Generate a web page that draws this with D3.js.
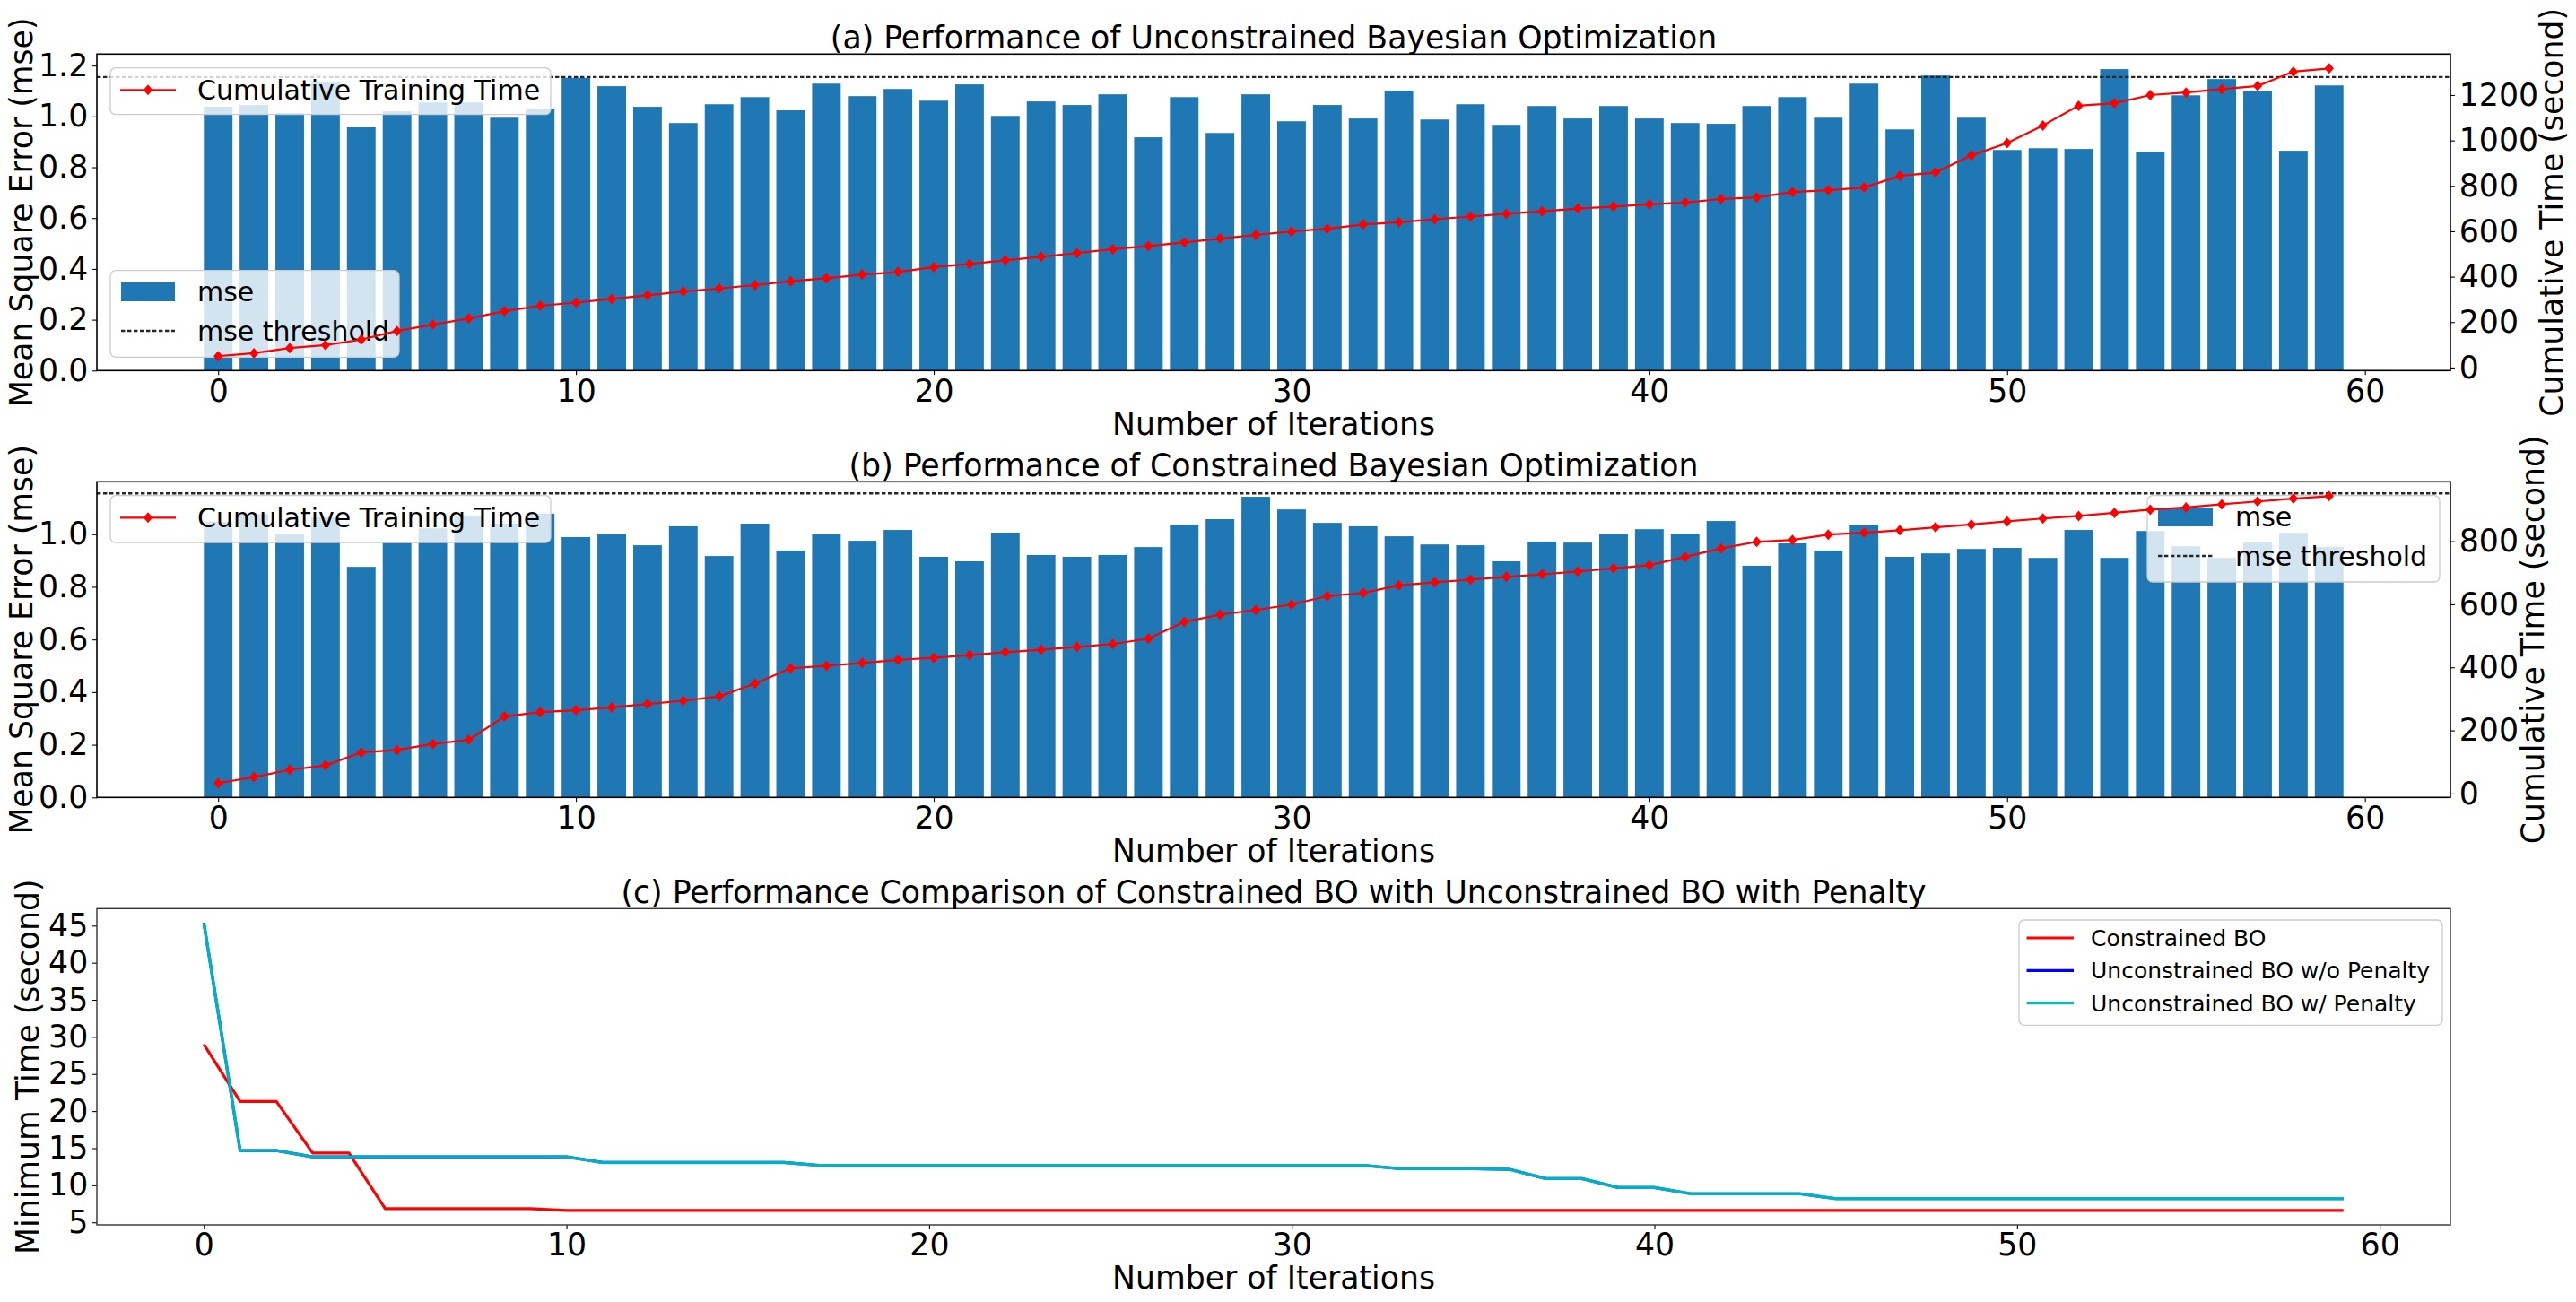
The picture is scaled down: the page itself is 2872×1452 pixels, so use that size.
<!DOCTYPE html>
<html>
<head>
<meta charset="utf-8">
<script src="https://cdn.jsdelivr.net/npm/d3@7"></script>
<style>
  html, body { margin: 0; padding: 0; background: #ffffff; }
  svg { display: block; }
  text { font-family: "DejaVu Sans", sans-serif; fill: #000; }
</style>
</head>
<body>
<svg id="chart" width="2872" height="1452"></svg>
<script>
// ---------------- DATA ----------------
const iterations = [0,1,2,3,4,5,6,7,8,9,10,11,12,13,14,15,16,17,18,19,20,21,22,23,24,25,26,27,28,29,
  30,31,32,33,34,35,36,37,38,39,40,41,42,43,44,45,46,47,48,49,50,51,52,53,54,55,56,57,58,59];

// (a) Unconstrained BO
const mseUnconstrained = [1.038,1.045,1.013,1.137,0.957,1.020,1.055,1.055,0.995,1.031,
  1.152,1.119,1.038,0.974,1.048,1.076,1.024,1.129,1.080,1.108,
  1.062,1.126,1.002,1.059,1.045,1.087,0.918,1.076,0.935,1.087,
  0.981,1.045,0.992,1.101,0.988,1.048,0.967,1.041,0.992,1.041,
  0.992,0.974,0.971,1.041,1.076,0.995,1.129,0.949,1.161,0.995,
  0.868,0.875,0.872,1.186,0.861,1.083,1.147,1.101,0.865,1.122];
const timeUnconstrained = [50,63,86,99,123,161,189,216,248,272,
  286,302,318,335,348,363,380,393,409,421,
  442,456,472,488,504,521,535,551,568,584,
  599,611,630,640,653,665,677,688,700,709,
  719,727,742,749,773,781,793,844,859,934,
  989,1066,1153,1164,1200,1211,1226,1240,1303,1317];

// (b) Constrained BO
const mseConstrained = [1.047,1.076,0.999,1.064,0.876,0.967,1.022,1.070,1.040,1.078,
  0.989,0.999,0.958,1.030,0.917,1.040,0.938,0.999,0.975,1.016,
  0.914,0.897,1.006,0.921,0.914,0.921,0.951,1.036,1.057,1.142,
  1.094,1.043,1.030,0.992,0.961,0.958,0.897,0.972,0.968,0.999,
  1.019,1.002,1.050,0.880,0.965,0.938,1.036,0.914,0.927,0.944,
  0.948,0.910,1.016,0.910,1.012,0.954,0.910,0.968,1.005,0.951];
const timeConstrained = [33,52,75,89,130,138,157,170,244,258,
  264,273,284,294,308,348,397,405,414,424,
  430,439,448,456,465,474,491,544,567,582,
  599,626,636,660,670,678,687,695,704,714,
  724,750,777,798,804,821,827,835,844,853,
  863,872,880,890,900,907,917,926,935,943];

const mseThreshold = 1.155;

// (c) Minimum time comparison
const minTimeConstrained = [29.0,21.3,21.3,14.35,14.35,6.85,6.85,6.85,6.85,6.85,
  6.6,6.6,6.6,6.6,6.6,6.6,6.6,6.6,6.6,6.6,
  6.6,6.6,6.6,6.6,6.6,6.6,6.6,6.6,6.6,6.6,
  6.6,6.6,6.6,6.6,6.6,6.6,6.6,6.6,6.6,6.6,
  6.6,6.6,6.6,6.6,6.6,6.6,6.6,6.6,6.6,6.6,
  6.6,6.6,6.6,6.6,6.6,6.6,6.6,6.6,6.6,6.6];
const minTimeNoPenalty = [45.36,14.68,14.68,13.84,13.84,13.84,13.84,13.84,13.84,13.84,
  13.84,13.07,13.07,13.07,13.07,13.07,13.07,12.67,12.67,12.67,
  12.67,12.67,12.67,12.67,12.67,12.67,12.67,12.67,12.67,12.67,
  12.67,12.67,12.67,12.23,12.23,12.23,12.15,10.9,10.9,9.7,
  9.7,8.86,8.86,8.86,8.86,8.2,8.2,8.2,8.2,8.2,
  8.2,8.2,8.2,8.2,8.2,8.2,8.2,8.2,8.2,8.2];
const minTimePenalty = [45.36,14.68,14.68,13.84,13.84,13.84,13.84,13.84,13.84,13.84,
  13.84,13.07,13.07,13.07,13.07,13.07,13.07,12.67,12.67,12.67,
  12.67,12.67,12.67,12.67,12.67,12.67,12.67,12.67,12.67,12.67,
  12.67,12.67,12.67,12.23,12.23,12.23,12.15,10.9,10.9,9.7,
  9.7,8.86,8.86,8.86,8.86,8.2,8.2,8.2,8.2,8.2,
  8.2,8.2,8.2,8.2,8.2,8.2,8.2,8.2,8.2,8.2];

// tick values
const xTicks = [0,10,20,30,40,50,60];
const mseTicksA = [0.0,0.2,0.4,0.6,0.8,1.0,1.2];
const mseTicksB = [0.0,0.2,0.4,0.6,0.8,1.0];
const timeTicksA = [0,200,400,600,800,1000,1200];
const timeTicksB = [0,200,400,600,800];
const minTimeTicks = [5,10,15,20,25,30,35,40,45];

// text
const titles = [
  "(a) Performance of Unconstrained Bayesian Optimization",
  "(b) Performance of Constrained Bayesian Optimization",
  "(c) Performance Comparison of Constrained BO with Unconstrained BO with Penalty"
];
const xLabel = "Number of Iterations";
const yLabelMse = "Mean Square Error (mse)";
const yLabelCum = "Cumulative Time (second)";
const yLabelMin = "Minimum Time (second)";
const lineLegendLabel = "Cumulative Training Time";
const barLegendLabels = ["mse", "mse threshold"];
const cLegendLabels = ["Constrained BO", "Unconstrained BO w/o Penalty", "Unconstrained BO w/ Penalty"];

// ---------------- STYLE / LAYOUT ----------------
const FS = 34.7;          // main font size
const LFS = 30;           // legend font size (a,b)
const LFS_C = 25;         // legend font size (c)
const BAR = "#1f77b4";
const RED = "#ff0000";
const plotL = 108, plotR = 2732;
const TICK = 4.9, PAD = 4.9;

const svg = d3.select("#chart");
svg.append("rect").attr("width", 2872).attr("height", 1452).attr("fill", "#fff");

function margin5(lo, hi) { const r = hi - lo; return [lo - 0.05 * r, hi + 0.05 * r]; }

function diamondPath(cx, cy) {
  const hw = 5.2, hh = 6.0;
  return `M${cx},${cy - hh}L${cx + hw},${cy}L${cx},${cy + hh}L${cx - hw},${cy}Z`;
}

function legendBox(g, x0, y0, x1, y1) {
  g.append("rect").attr("x", x0).attr("y", y0).attr("width", x1 - x0).attr("height", y1 - y0)
    .attr("rx", 6).attr("ry", 6)
    .attr("fill", "#ffffff").attr("fill-opacity", 0.8)
    .attr("stroke", "#cccccc").attr("stroke-width", 1.3);
}

function styleAxis(sel) {
  sel.select(".domain").remove();
  sel.selectAll(".tick line").attr("stroke", "#000").attr("stroke-width", 1.1);
  sel.selectAll(".tick text").attr("font-size", FS).attr("font-family", '"DejaVu Sans", sans-serif').attr("fill", "#000");
}

const DASH = "4.4,2.6";
const DASH_COLOR = "#262626";

function drawBarPanel(cfg) {
  const g = svg.append("g");
  const top = cfg.top, bottom = cfg.bottom;
  const x = d3.scaleLinear().domain(margin5(-0.4, iterations.length - 1 + 0.4)).range([plotL, plotR]);
  const y = d3.scaleLinear().domain([0, d3.max(cfg.mse) * 1.05]).range([bottom, top]);
  const y2 = d3.scaleLinear().domain(margin5(d3.min(cfg.time), d3.max(cfg.time))).range([bottom, top]);

  // bars
  g.append("g").selectAll("rect").data(cfg.mse).join("rect")
    .attr("x", (d, i) => x(iterations[i] - 0.4))
    .attr("width", (d, i) => x(iterations[i] + 0.4) - x(iterations[i] - 0.4))
    .attr("y", d => y(d))
    .attr("height", d => y(0) - y(d))
    .attr("fill", BAR);

  // threshold
  g.append("line").attr("x1", plotL).attr("x2", plotR)
    .attr("y1", y(mseThreshold)).attr("y2", y(mseThreshold))
    .attr("stroke", DASH_COLOR).attr("stroke-width", 2.3).attr("stroke-dasharray", DASH);

  // ax1 legend (mse / threshold)
  const L = cfg.barLegend;
  const lg = g.append("g");
  legendBox(lg, L.x0, L.y0, L.x1, L.y1);
  lg.append("rect").attr("x", L.hx0).attr("y", L.patchY0).attr("width", L.hx1 - L.hx0)
    .attr("height", L.patchY1 - L.patchY0).attr("fill", BAR);
  lg.append("line").attr("x1", L.hx0).attr("x2", L.hx1).attr("y1", L.lineY).attr("y2", L.lineY)
    .attr("stroke", DASH_COLOR).attr("stroke-width", 2.3).attr("stroke-dasharray", DASH);
  lg.append("text").attr("x", L.tx).attr("y", L.t1).attr("font-size", LFS).text(barLegendLabels[0]);
  lg.append("text").attr("x", L.tx).attr("y", L.t2).attr("font-size", LFS).text(barLegendLabels[1]);

  // cumulative time line (twin axis)
  const line = d3.line().x((d, i) => x(iterations[i])).y(d => y2(d));
  g.append("path").datum(cfg.time).attr("d", line).attr("fill", "none")
    .attr("stroke", RED).attr("stroke-width", 2.2);
  g.append("g").selectAll("path").data(cfg.time).join("path")
    .attr("d", (d, i) => diamondPath(x(iterations[i]), y2(d)))
    .attr("fill", RED);

  // ax2 legend
  const M = cfg.lineLegend;
  const mg = g.append("g");
  legendBox(mg, M.x0, M.y0, M.x1, M.y1);
  mg.append("line").attr("x1", M.hx0).attr("x2", M.hx1).attr("y1", M.ly).attr("y2", M.ly)
    .attr("stroke", RED).attr("stroke-width", 2.2);
  mg.append("path").attr("d", diamondPath((M.hx0 + M.hx1) / 2, M.ly)).attr("fill", RED);
  mg.append("text").attr("x", M.tx).attr("y", M.ty).attr("font-size", LFS).text(lineLegendLabel);

  // axes
  const ax = g.append("g").attr("transform", `translate(0,${bottom})`)
    .call(d3.axisBottom(x).tickValues(xTicks).tickFormat(d3.format("d")).tickSize(TICK).tickPadding(PAD));
  styleAxis(ax);
  const ayl = g.append("g").attr("transform", `translate(${plotL},0)`)
    .call(d3.axisLeft(y).tickValues(cfg.mseTicks).tickFormat(d3.format(".1f")).tickSize(TICK).tickPadding(PAD));
  styleAxis(ayl);
  const ayr = g.append("g").attr("transform", `translate(${plotR},0)`)
    .call(d3.axisRight(y2).tickValues(cfg.timeTicks).tickFormat(d3.format("d")).tickSize(TICK).tickPadding(PAD));
  styleAxis(ayr);

  // frame
  g.append("rect").attr("x", plotL).attr("y", top).attr("width", plotR - plotL).attr("height", bottom - top)
    .attr("fill", "none").attr("stroke", "#000").attr("stroke-width", 1.6);

  // texts
  const cx = (plotL + plotR) / 2, cy = (top + bottom) / 2;
  g.append("text").attr("x", cx).attr("y", top - 6).attr("text-anchor", "middle").attr("font-size", FS).text(cfg.title);
  g.append("text").attr("x", cx).attr("y", bottom + 71.4).attr("text-anchor", "middle").attr("font-size", FS).text(xLabel);
  g.append("text").attr("transform", `translate(${cfg.leftLabelX},${cy}) rotate(-90)`)
    .attr("text-anchor", "middle").attr("font-size", FS).text(yLabelMse);
  g.append("text").attr("transform", `translate(${cfg.rightLabelX},${cy}) rotate(-90)`)
    .attr("text-anchor", "middle").attr("font-size", FS).text(yLabelCum);
}

// Panel (a)
drawBarPanel({
  top: 60.3, bottom: 413.3, mse: mseUnconstrained, time: timeUnconstrained,
  mseTicks: mseTicksA, timeTicks: timeTicksA, title: titles[0],
  leftLabelX: 36, rightLabelX: 2857,
  barLegend: { x0: 123, y0: 301.7, x1: 445, y1: 398.3, hx0: 135, hx1: 195, patchY0: 315, patchY1: 336,
               lineY: 369, tx: 220, t1: 336, t2: 380 },
  lineLegend: { x0: 123, y0: 75.7, x1: 614, y1: 127.7, hx0: 134, hx1: 196, ly: 100.3, tx: 220, ty: 110.5 }
});

// Panel (b)
drawBarPanel({
  top: 537.3, bottom: 889.3, mse: mseConstrained, time: timeConstrained,
  mseTicks: mseTicksB, timeTicks: timeTicksB, title: titles[1],
  leftLabelX: 36, rightLabelX: 2836,
  barLegend: { x0: 2394, y0: 552.7, x1: 2720, y1: 649, hx0: 2406, hx1: 2467, patchY0: 566, patchY1: 587,
               lineY: 620, tx: 2492, t1: 587, t2: 631 },
  lineLegend: { x0: 123, y0: 552.7, x1: 614, y1: 605, hx0: 134, hx1: 196, ly: 577.3, tx: 220, ty: 587.5 }
});

// Panel (c)
(function () {
  const top = 1013.3, bottom = 1366;
  const g = svg.append("g");
  const x = d3.scaleLinear().domain(margin5(iterations[0], iterations[iterations.length - 1])).range([plotL, plotR]);
  const all = minTimeConstrained.concat(minTimeNoPenalty, minTimePenalty);
  const y = d3.scaleLinear().domain(margin5(d3.min(all), d3.max(all))).range([bottom, top]);
  const line = d3.line().x((d, i) => x(iterations[i])).y(d => y(d));

  g.append("path").datum(minTimeConstrained).attr("d", line).attr("fill", "none")
    .attr("stroke", RED).attr("stroke-width", 3.2).attr("stroke-linejoin", "round");
  g.append("path").datum(minTimeNoPenalty).attr("d", line).attr("fill", "none")
    .attr("stroke", "#0000ff").attr("stroke-width", 3.2).attr("stroke-linejoin", "round");
  g.append("path").datum(minTimePenalty).attr("d", line).attr("fill", "none")
    .attr("stroke", "#00bfbf").attr("stroke-width", 3.4).attr("stroke-opacity", 0.92).attr("stroke-linejoin", "round");

  // legend
  const lg = g.append("g");
  legendBox(lg, 2251, 1026, 2723, 1143.3);
  const cols = [RED, "#0000ff", "#00bfbf"];
  const rows = [1046, 1082.3, 1118.7];
  cLegendLabels.forEach((lab, k) => {
    lg.append("line").attr("x1", 2259.5).attr("x2", 2312).attr("y1", rows[k]).attr("y2", rows[k])
      .attr("stroke", cols[k]).attr("stroke-width", 3.2);
    lg.append("text").attr("x", 2331).attr("y", rows[k] + 9).attr("font-size", LFS_C).text(lab);
  });

  const ax = g.append("g").attr("transform", `translate(0,${bottom})`)
    .call(d3.axisBottom(x).tickValues(xTicks).tickFormat(d3.format("d")).tickSize(TICK).tickPadding(PAD));
  styleAxis(ax);
  const ay = g.append("g").attr("transform", `translate(${plotL},0)`)
    .call(d3.axisLeft(y).tickValues(minTimeTicks).tickFormat(d3.format("d")).tickSize(TICK).tickPadding(PAD));
  styleAxis(ay);

  g.append("rect").attr("x", plotL).attr("y", top).attr("width", plotR - plotL).attr("height", bottom - top)
    .attr("fill", "none").attr("stroke", "#333").attr("stroke-width", 1.4);

  const cx = (plotL + plotR) / 2, cy = (top + bottom) / 2;
  g.append("text").attr("x", cx).attr("y", top - 6).attr("text-anchor", "middle").attr("font-size", FS).text(titles[2]);
  g.append("text").attr("x", cx).attr("y", bottom + 71).attr("text-anchor", "middle").attr("font-size", FS).text(xLabel);
  g.append("text").attr("transform", `translate(43,${cy}) rotate(-90)`)
    .attr("text-anchor", "middle").attr("font-size", FS).text(yLabelMin);
})();
</script>
</body>
</html>
